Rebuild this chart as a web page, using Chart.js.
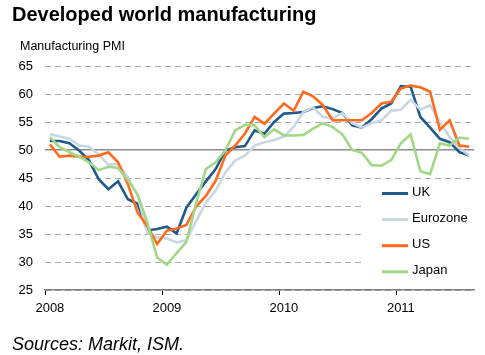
<!DOCTYPE html>
<html><head><meta charset="utf-8">
<script src="https://cdn.jsdelivr.net/npm/chart.js@4.4.1/dist/chart.umd.min.js"></script>
<style>
html,body{margin:0;padding:0;background:#fff;width:485px;height:355px;overflow:hidden;font-family:"Liberation Sans",Arial,sans-serif}
#c{position:absolute;left:0;top:0}
.t{position:absolute;white-space:nowrap;color:#000}
</style></head><body>
<canvas id="c" width="485" height="355"></canvas>
<div class="t" style="left:12px;top:4px;font-size:20px;line-height:20px;font-weight:bold">Developed world manufacturing</div>
<div class="t" style="left:20px;top:40px;font-size:12.5px;line-height:12.5px">Manufacturing PMI</div>
<div class="t" style="left:12px;top:335px;font-size:18px;line-height:18px;font-style:italic">Sources: Markit, ISM.</div>
<script>
const months = [
 'Jan 2008','Feb 2008','Mar 2008','Apr 2008','May 2008','Jun 2008','Jul 2008','Aug 2008','Sep 2008','Oct 2008','Nov 2008','Dec 2008',
 'Jan 2009','Feb 2009','Mar 2009','Apr 2009','May 2009','Jun 2009','Jul 2009','Aug 2009','Sep 2009','Oct 2009','Nov 2009','Dec 2009',
 'Jan 2010','Feb 2010','Mar 2010','Apr 2010','May 2010','Jun 2010','Jul 2010','Aug 2010','Sep 2010','Oct 2010','Nov 2010','Dec 2010',
 'Jan 2011','Feb 2011','Mar 2011','Apr 2011','May 2011','Jun 2011','Jul 2011','Aug 2011'
];
const uk = [51.6,51.6,51.2,49.9,48.2,44.8,43.0,44.4,41.2,40.4,35.6,35.9,36.3,35.1,39.7,42.1,44.4,46.6,49.9,50.5,50.7,53.5,52.9,55.0,56.5,56.6,56.8,57.5,57.8,57.3,56.6,54.4,54.0,55.5,57.4,58.3,61.4,61.3,55.9,54.0,52.0,51.4,49.6,49.0];
const eurozone = [52.8,52.4,52.0,50.8,50.6,49.2,47.4,47.5,45.1,41.8,35.2,34.4,34.2,33.5,33.9,37.3,40.6,42.7,46.0,48.1,49.0,50.8,51.4,51.8,52.4,54.1,56.8,57.6,55.9,55.7,56.6,54.8,54.0,54.8,55.3,57.0,57.2,59.0,57.2,58.0,55.0,52.3,50.4,49.0];
const us = [51.0,48.8,49.0,48.8,48.8,49.0,49.6,47.8,43.9,38.8,36.4,33.2,35.6,36.0,36.6,39.9,41.8,44.5,49.0,50.8,52.9,55.9,54.7,56.5,58.3,57.0,60.4,59.6,58.0,55.3,55.3,55.3,55.3,56.6,58.3,58.6,61.0,61.5,61.2,60.4,53.6,55.3,50.8,50.6];
const japan = [52.3,50.5,49.6,48.8,47.8,46.4,47.0,46.8,44.6,42.1,37.0,30.8,29.5,31.6,33.6,40.5,46.6,47.8,49.9,53.5,54.5,54.4,52.3,53.7,52.6,52.6,52.7,53.8,54.8,54.1,52.8,50.0,49.5,47.3,47.2,48.2,51.2,52.8,46.2,45.7,51.2,50.8,52.2,52.0];
const seriesNames = ['UK','Eurozone','US','Japan'];
const seriesColors = ['#1f5a8c','#c9d7e4','#ff6a1c','#a0d886'];
const yMin = 25, yMax = 65, yStep = 5, refLine = 50;

const seriesData = [uk, eurozone, us, japan];
const datasets = seriesNames.map((n,i)=>({
  label:n, data:seriesData[i], borderColor:seriesColors[i], backgroundColor:seriesColors[i],
  borderWidth:2.6, pointRadius:0, tension:0, fill:false, order:3-i
}));

const legendPlugin = {
  id:'boxLegend',
  beforeDatasetsDraw(chart){
    const ca = chart.chartArea, ctx = chart.ctx;
    ctx.save(); ctx.fillStyle='#fff';
    ctx.fillRect(ca.right-112, ca.top+115, 112, 104);
    ctx.restore();
  },
  afterDatasetsDraw(chart){
    const ca = chart.chartArea, ctx = chart.ctx;
    ctx.save();
    ctx.font = '13px "Liberation Sans", Arial, sans-serif';
    ctx.textBaseline='middle'; ctx.textAlign='left';
    chart.data.datasets.forEach((d,k)=>{
      const y = ca.top + 127.5 + k*26.1;
      const x0 = ca.right - 92;
      ctx.strokeStyle = d.borderColor; ctx.lineWidth = 3;
      ctx.beginPath(); ctx.moveTo(x0,y); ctx.lineTo(x0+26,y); ctx.stroke();
      ctx.fillStyle='#000';
      ctx.fillText(d.label, x0+30, y-1);
    });
    ctx.restore();
  }
};

new Chart(document.getElementById('c'), {
  type:'line',
  data:{labels:months, datasets},
  plugins:[legendPlugin],
  options:{
    responsive:false, animation:false,
    layout:{padding:{top:66,right:11,left:0,bottom:0}},
    plugins:{legend:{display:false}, tooltip:{enabled:false}, title:{display:false}},
    scales:{
      x:{
        type:'category', offset:true,
        afterFit(s){ s.height = 65; },
        grid:{offset:true, drawOnChartArea:false, drawTicks:true, tickLength:5, lineWidth:1,
          color:(c)=> (c.index % 12 === 0) ? '#000' : 'rgba(0,0,0,0)'},
        border:{display:true, color:'#7f7f7f', width:1.5},
        ticks:{autoSkip:false, maxRotation:0, padding:6, color:'#000',
          font:{family:'"Liberation Sans", Arial, sans-serif', size:13},
          callback(v){ const l = this.getLabelForValue(v); return l.startsWith('Jan') ? l.slice(4) : ''; }}
      },
      y:{
        min:yMin, max:yMax,
        afterFit(s){ s.width = 45; },
        ticks:{stepSize:yStep, padding:12, color:'#000',
          font:{family:'"Liberation Sans", Arial, sans-serif', size:13}},
        grid:{drawTicks:false,
          color:(c)=> (c.tick && c.tick.value===refLine) ? '#8c8c8c' : '#a9a9a9',
          lineWidth:(c)=> (c.tick && c.tick.value===refLine) ? 1.5 : 1},
        border:{display:false, dash:(c)=> (c.tick && c.tick.value===refLine) ? [] : [6,4]}
      }
    }
  }
});
</script>
</body></html>
